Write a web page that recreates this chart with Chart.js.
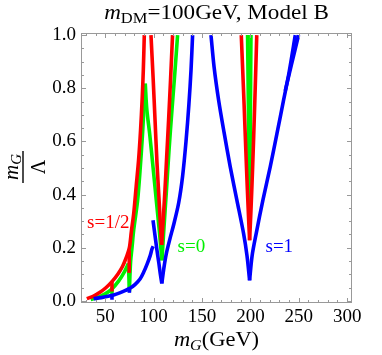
<!DOCTYPE html>
<html>
<head>
<meta charset="utf-8">
<script src="https://cdn.jsdelivr.net/npm/chart.js@4.4.1/dist/chart.umd.min.js"></script>
<style>
  html, body { margin: 0; padding: 0; background: #fff; }
  #wrap { width: 382px; height: 355px; }
</style>
</head>
<body>
<div id="wrap"><canvas id="plot" width="382" height="355"></canvas></div>
<script>
// ===== values: [mG (GeV), mG/Lambda] =====

// s = 1/2 (red)
const redLeft = [[31, 0.008], [38, 0.018], [45, 0.033], [51, 0.05], [57, 0.072], [63, 0.1], [68, 0.13], [72, 0.165], [75, 0.2], [77, 0.26], [79.5, 0.33], [82, 0.43], [84.5, 0.53], [86.5, 0.64], [88.2, 0.76], [89.4, 0.87], [90.4, 1.0]]
const redNotch57 = [[57, 0.075], [57, 0.035]]
const redNotch75 = [[74.8, 0.19], [74.8, 0.105]]
const redDipLeft = [[97.3, 1.0], [99.5, 0.84], [101.5, 0.68], [103.5, 0.52], [105.5, 0.39], [107, 0.29], [108.3, 0.21]]
const redDipRight = [[108.3, 0.21], [110, 0.31], [111.8, 0.42], [113.5, 0.54], [115.5, 0.68], [117.5, 0.83], [119.6, 1.0]]
const red200Left = [[190.6, 1.0], [193.5, 0.74], [196, 0.5], [197.8, 0.34], [199.2, 0.228]]
const red200Right = [[199.2, 0.228], [200.6, 0.34], [202.3, 0.5], [204.5, 0.74], [206.6, 1.0]]

// s = 0 (green)
const greenLeft = [[35, 0.005], [43, 0.014], [50, 0.026], [57, 0.045], [64, 0.075], [70, 0.11], [74, 0.14]]
const greenNotch57 = [[57, 0.05], [57, 0.02]]
const greenNotch75 = [[74, 0.14], [75, 0.035]]
const greenRise = [[75, 0.035], [75.5, 0.09], [76.3, 0.15], [77.7, 0.2], [79.4, 0.265], [83.5, 0.378], [86.2, 0.5], [88.6, 0.63], [90.2, 0.74], [91.4, 0.817]]
const greenFall = [[91.4, 0.817], [93, 0.72], [95.9, 0.63], [99.4, 0.504], [102.8, 0.378], [106.2, 0.253], [108.6, 0.152]]
const greenDipRight = [[108.6, 0.152], [110.8, 0.28], [113, 0.4], [116, 0.57], [119, 0.72], [122, 0.86], [124.8, 1.0]]
const green200Left = [[197.1, 1.0], [198.2, 0.65], [199.1, 0.3]]
const green200Right = [[200.6, 1.0], [199.9, 0.65], [199.1, 0.3]]

// s = 1 (blue)
const blueLow = [[38, 0.008], [46, 0.012], [53, 0.017], [58.7, 0.022], [65, 0.03], [71, 0.039], [76, 0.048], [81, 0.062], [86, 0.082], [89.8, 0.108], [93.5, 0.14], [96.5, 0.17], [98.4, 0.196], [99.6, 0.205]]
const blueNotch57 = [[57, 0.022], [57, 0.004]]
const blueNotch75 = [[75, 0.05], [75, 0.03]]
const blueDipLeft = [[99.4, 0.303], [101.5, 0.245], [103.5, 0.19], [105.5, 0.14], [107, 0.1], [108.5, 0.065]]
const blueDipRight = [[108.5, 0.065], [110.5, 0.12], [113, 0.175], [117, 0.235], [121, 0.29], [126, 0.37], [130, 0.47], [133.5, 0.6], [136.5, 0.74], [138.7, 0.87], [140.3, 1.0]]
const blue200Left = [[159.3, 1.0], [162.5, 0.88], [167.2, 0.755], [173, 0.63], [179.2, 0.504], [186, 0.38], [193, 0.253], [196.5, 0.17], [199.2, 0.077]]
const blue200Right = [[199.2, 0.077], [201.8, 0.17], [206, 0.253], [213, 0.38], [220.5, 0.504], [227.5, 0.63], [234.3, 0.755], [240, 0.86], [246.4, 1.0]]
const blue200Outer = [[236, 0.79], [242.5, 0.89], [249.8, 1.0]]

// axes
const xTicks = [50, 100, 150, 200, 250, 300]
const yTicks = [0, 0.2, 0.4, 0.6, 0.8, 1.0]
const curveLabels = [
  { text: 's=1/2', x: 53.2, y: 0.292, color: '#ff0000' },
  { text: 's=0', x: 139, y: 0.201, color: '#00f000' },
  { text: 's=1', x: 229.9, y: 0.201, color: '#0000ff' }
]

const RED = '#ff0000'
const GREEN = '#00f000'
const BLUE = '#0000ff'
const SERIF = '"Liberation Serif", "DejaVu Serif", serif'

function curve(points, color, order) {
  return {
    data: points.map(([x, y]) => ({ x, y })),
    borderColor: color,
    borderWidth: 3.6,
    pointRadius: 0,
    showLine: true,
    fill: false,
    tension: 0.3,
    clip: 0,
    order: order
  }
}

// rich text helper: parts = [{ t, size, italic, dy }]
function drawRich(ctx, parts, x, y, align, sx) {
  const fontOf = p => (p.italic ? 'italic ' : '') + p.size + 'px ' + SERIF
  let w = 0
  parts.forEach(p => { ctx.font = fontOf(p); w += ctx.measureText(p.t).width })
  let cx = align === 'center' ? -w / 2 : 0
  ctx.save()
  ctx.translate(x, y)
  ctx.scale(sx || 1, 1)
  ctx.textBaseline = 'alphabetic'
  ctx.textAlign = 'left'
  parts.forEach(p => {
    ctx.font = fontOf(p)
    ctx.fillText(p.t, cx, p.dy || 0)
    cx += ctx.measureText(p.t).width
  })
  ctx.restore()
}

const framePlugin = {
  id: 'frame',
  afterDatasetsDraw(chart) {
    const { ctx, chartArea: a, scales } = chart
    const xs = scales.x, ys = scales.y
    ctx.save()
    ctx.strokeStyle = '#999999'
    ctx.lineWidth = 1
    ctx.strokeRect(a.left + 0.5, a.top + 0.5, a.right - a.left - 1, a.bottom - a.top - 1)
    ctx.beginPath()
    const tickX = (v, len) => {
      const px = Math.round(xs.getPixelForValue(v)) + 0.5
      ctx.moveTo(px, a.bottom); ctx.lineTo(px, a.bottom - len)
      ctx.moveTo(px, a.top); ctx.lineTo(px, a.top + len)
    }
    const tickY = (v, len) => {
      const py = Math.round(ys.getPixelForValue(v)) + 0.5
      ctx.moveTo(a.left, py); ctx.lineTo(a.left + len, py)
      ctx.moveTo(a.right, py); ctx.lineTo(a.right - len, py)
    }
    for (let v = 30; v <= 300; v += 10) tickX(v, v % 50 === 0 ? 5 : 3)
    for (let i = 0; i <= 20; i++) tickY(i * 0.05, i % 4 === 0 ? 5 : 3)
    ctx.stroke()
    ctx.restore()
  },
  afterDraw(chart) {
    const { ctx, chartArea: a, scales } = chart
    ctx.save()
    ctx.fillStyle = '#000'
    const mid = (a.left + a.right) / 2

    // title
    drawRich(ctx, [
      { t: 'm', size: 21, italic: true },
      { t: 'DM', size: 15, dy: 4 },
      { t: '=100GeV, Model B', size: 21 }
    ], mid, 19, 'center', 1.1)

    // x axis title
    drawRich(ctx, [
      { t: 'm', size: 21, italic: true },
      { t: 'G', size: 15, italic: true, dy: 4 },
      { t: '(GeV)', size: 21 }
    ], mid, 346, 'center', 1.07)

    // y axis title: m_G / Lambda, rotated
    ctx.save()
    ctx.translate(23, 167)
    ctx.rotate(-Math.PI / 2)
    drawRich(ctx, [
      { t: 'm', size: 21, italic: true },
      { t: 'G', size: 15, italic: true, dy: 3 }
    ], 0, -5, 'center', 1)
    ctx.strokeStyle = '#000'
    ctx.lineWidth = 1.4
    ctx.beginPath(); ctx.moveTo(-16, 0); ctx.lineTo(16, 0); ctx.stroke()
    drawRich(ctx, [{ t: 'Λ', size: 20 }], 0, 22, 'center', 1)
    ctx.restore()

    // curve labels
    curveLabels.forEach(l => {
      ctx.fillStyle = l.color
      ctx.font = '19px ' + SERIF
      ctx.textAlign = 'center'
      ctx.textBaseline = 'middle'
      ctx.fillText(l.text, scales.x.getPixelForValue(l.x), scales.y.getPixelForValue(l.y))
    })
    ctx.restore()
  }
}

const datasets = [
  curve(blueLow, BLUE, 1), curve(blueNotch57, BLUE, 1), curve(blueNotch75, BLUE, 1),
  curve(blueDipLeft, BLUE, 1), curve(blueDipRight, BLUE, 1),
  curve(blue200Left, BLUE, 1), curve(blue200Right, BLUE, 1), curve(blue200Outer, BLUE, 1),
  curve(redLeft, RED, 2), curve(redNotch57, RED, 2), curve(redNotch75, RED, 2),
  curve(redDipLeft, RED, 2), curve(redDipRight, RED, 2),
  curve(red200Left, RED, 2), curve(red200Right, RED, 2),
  curve(greenLeft, GREEN, 3), curve(greenNotch57, GREEN, 3), curve(greenNotch75, GREEN, 3),
  curve(greenRise, GREEN, 3), curve(greenFall, GREEN, 3), curve(greenDipRight, GREEN, 3),
  curve(green200Left, GREEN, 3), curve(green200Right, GREEN, 3)
]

new Chart(document.getElementById('plot'), {
  type: 'scatter',
  data: { datasets },
  options: {
    responsive: false,
    devicePixelRatio: 1,
    animation: false,
    events: [],
    layout: { padding: { top: 33, right: 30, left: 0, bottom: 0 } },
    plugins: { legend: { display: false }, tooltip: { enabled: false }, title: { display: false } },
    scales: {
      x: {
        type: 'linear',
        min: 25,
        max: 305,
        grid: { display: false, drawTicks: false },
        border: { display: false },
        afterBuildTicks: s => { s.ticks = xTicks.map(v => ({ value: v })) },
        afterFit: s => { s.height = 52 },
        ticks: { color: '#000', font: { family: SERIF, size: 19 }, padding: 3, maxRotation: 0, autoSkip: false, callback: v => String(v) }
      },
      y: {
        type: 'linear',
        min: -0.0083,
        max: 1.0079,
        grid: { display: false, drawTicks: false },
        border: { display: false },
        afterBuildTicks: s => { s.ticks = yTicks.map(v => ({ value: v })) },
        afterFit: s => { s.width = 81 },
        ticks: { color: '#000', font: { family: SERIF, size: 19 }, padding: 5, autoSkip: false, callback: v => Number(v).toFixed(1) }
      }
    }
  },
  plugins: [framePlugin]
})
</script>
</body>
</html>
